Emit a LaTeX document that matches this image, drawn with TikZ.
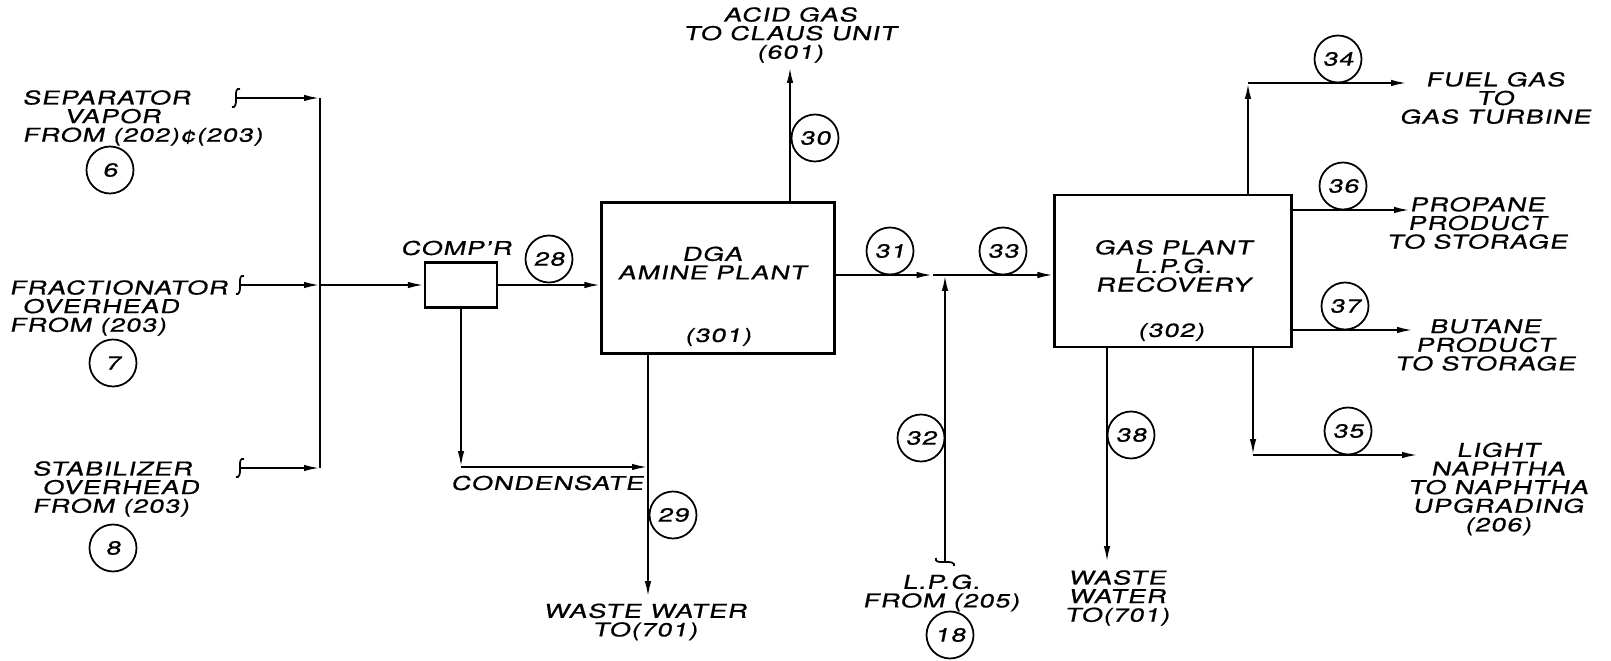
\documentclass[tikz,border=0pt]{standalone}
\usepackage{fontspec}
\setmainfont{TeX Gyre Heros}[FakeStretch=1.42,FakeSlant=0.2,FakeBold=0.8,LetterSpace=5]
\usetikzlibrary{positioning,arrows.meta}
\tikzset{
  unit/.style={draw,line width=1.2pt,inner sep=0pt},
  stream/.style={draw,circle,line width=1pt,minimum size=9.4mm,inner sep=0pt},
  tag/.style={align=center,inner sep=0pt},
  pipe/.style={line width=1.2pt},
  feedtail/.pic={\draw[line width=1pt] (4,-9) .. controls (0,-10) and (0,-6) .. (0,-3) -- (0,3) .. controls (0,6) and (-1,10) .. (-4,9);},
}
\begin{document}
\begin{tikzpicture}[x=0.02cm,y=-0.02cm,>={Latex[length=3.2mm,width=1.3mm]},
   font=\fontsize{10.8}{10.6}\selectfont]
  \useasboundingbox (0,0) rectangle (1611,661);
  % process units
  \node[unit,minimum width=1.44cm,minimum height=0.9cm] (comp) at (461,285) {};
  \node[unit,minimum width=4.66cm,minimum height=3.02cm] (dga) at (718,278) {};
  \node[unit,minimum width=4.74cm,minimum height=3.04cm] (gas) at (1173,271) {};
  \node[tag] (comptxt) at (456,248) {COMP'R};
  \node[tag] (dgatxt) at (712,263) {DGA\\AMINE PLANT};
  \node[tag] (dganum) at (718,337) {(301)};
  \node[tag] (gastxt) at (1173,266) {GAS PLANT\\L.P.G.\\RECOVERY};
  \node[tag] (gasnum) at (1171,332) {(302)};
  % feeds to compressor
  \coordinate (sepin) at (236,98);
  \coordinate (fracin) at (240,285);
  \coordinate (stabin) at (240,468);
  \coordinate (sepj) at (320,98);
  \coordinate (fracj) at (320,285);
  \coordinate (stabj) at (320,468);
  \draw[pipe] (sepj) -- (stabj);
  \draw[pipe,->] (sepin) -- (sepj);
  \draw[pipe,->] (fracin) -- (fracj);
  \draw[pipe,->] (stabin) -- (stabj);
  \draw[pipe,->] (fracj) -- (comp.west);
  \pic at (sepin) {feedtail};
  \pic at (fracin) {feedtail};
  \pic at (stabin) {feedtail};
  \node[tag,align=left,anchor=west] (septxt) at (22,118) {SEPARATOR\\\hspace*{0.84cm}VAPOR\\FROM (202)¢(203)};
  \node[tag,align=left,anchor=west] (fractxt) at (9,308) {FRACTIONATOR\\\hspace*{0.26cm}OVERHEAD\\FROM (203)};
  \node[tag,align=left,anchor=west] (stabtxt) at (32,489) {STABILIZER\\\hspace*{0.2cm}OVERHEAD\\FROM (203)};
  \node[stream] (s6) at (110,170) {6};
  \node[stream] (s7) at (113,363) {7};
  \node[stream] (s8) at (113,548) {8};
  % amine plant
  \draw[pipe,->] (comp.east) -- (comp.east -| dga.west);
  \node[stream] (s28) at (549,259) {28};
  \coordinate (acid) at (790,67);
  \draw[pipe,->] (dga.north -| acid) -- (acid);
  \node[stream] (s30) at (815,138) {30};
  \node[tag] (acidtxt) at (790,35) {ACID GAS\\TO CLAUS UNIT\\(601)};
  \coordinate (condj) at (648,467);
  \draw[pipe,->] (comp.south) -- (comp.south |- condj);
  \draw[pipe,->] (comp.south |- condj) -- (condj);
  \node[tag] (condtxt) at (547,483) {CONDENSATE};
  \coordinate (ww29) at (648,597);
  \draw[pipe,->] (dga.south -| ww29) -- (ww29);
  \node[stream] (s29) at (673,515) {29};
  \node[tag] (ww29txt) at (645,622) {WASTE WATER\\TO(701)};
  % junction with lpg
  \coordinate (j31) at (945,275);
  \coordinate (lpgin) at (945,562);
  \draw[pipe,->] (dga.east |- j31) -- ([xshift=-2.5mm]j31);
  \draw[pipe,->] ([xshift=-2.5mm]j31) -- (j31 -| gas.west);
  \draw[pipe,->] (lpgin) -- (j31);
  \pic[rotate=90] at (lpgin) {feedtail};
  \node[stream] (s31) at (890,251) {31};
  \node[stream] (s33) at (1003,251) {33};
  \node[stream] (s32) at (921,438) {32};
  \node[tag] (lpgtxt) at (941,593) {L.P.G.\\FROM (205)};
  \node[stream] (s18) at (950,635) {18};
  % gas plant products
  \coordinate (c34) at (1248,83);
  \coordinate (fuel) at (1407,83);
  \draw[pipe,->] (gas.north -| c34) -- (c34);
  \draw[pipe,->] (c34) -- (fuel);
  \node[stream] (s34) at (1338,59) {34};
  \node[tag] (fueltxt) at (1495,98) {FUEL GAS\\TO\\GAS TURBINE};
  \coordinate (prop) at (1410,210);
  \draw[pipe,->] (gas.east |- prop) -- (prop);
  \node[stream] (s36) at (1343,186) {36};
  \node[tag] (proptxt) at (1477,223) {PROPANE\\PRODUCT\\TO STORAGE};
  \coordinate (but) at (1413,330);
  \draw[pipe,->] (gas.east |- but) -- (but);
  \node[stream] (s37) at (1345,306) {37};
  \node[tag] (buttxt) at (1485,345) {BUTANE\\PRODUCT\\TO STORAGE};
  \coordinate (c35) at (1253,455);
  \coordinate (naph) at (1418,455);
  \draw[pipe,->] (gas.south -| c35) -- (c35);
  \draw[pipe,->] (c35) -- (naph);
  \node[stream] (s35) at (1348,431) {35};
  \node[tag] (naphtxt) at (1498,489) {LIGHT\\NAPHTHA\\TO NAPHTHA\\UPGRADING\\(206)};
  \coordinate (ww38) at (1107,562);
  \draw[pipe,->] (gas.south -| ww38) -- (ww38);
  \node[stream] (s38) at (1131,435) {38};
  \node[tag] (ww38txt) at (1117,598) {WASTE\\WATER\\TO(701)};
\end{tikzpicture}
\end{document}
